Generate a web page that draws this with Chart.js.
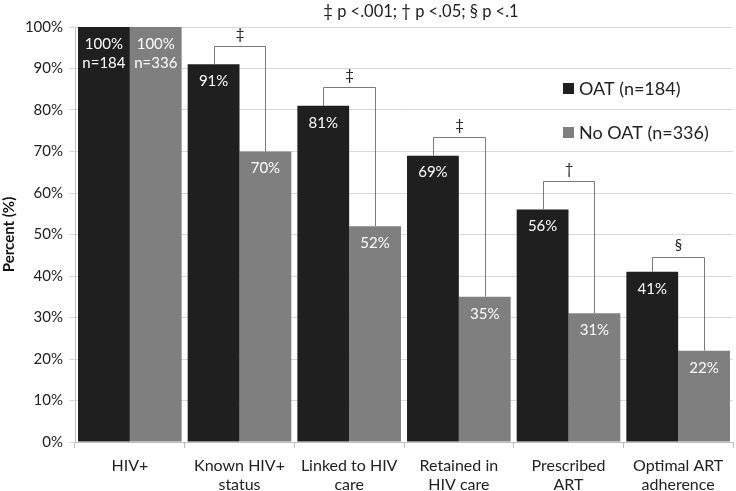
<!DOCTYPE html>
<html>
<head>
<meta charset="utf-8">
<script src="https://cdn.jsdelivr.net/npm/chart.js@4"></script>
<style>
  html, body { margin: 0; padding: 0; background: #fff; }
  #wrap { width: 736px; height: 491px; }
</style>
</head>
<body>
<div id="wrap"><canvas id="chart" width="736" height="491"></canvas></div>
<script>
const categories = [['HIV+'], ['Known HIV+', 'status'], ['Linked to HIV', 'care'], ['Retained in', 'HIV care'], ['Prescribed', 'ART'], ['Optimal ART', 'adherence']];
const oatValues = [100, 91, 81, 69, 56, 41];
const noOatValues = [100, 70, 52, 35, 31, 22];
const seriesNames = ['OAT (n=184)', 'No OAT (n=336)'];
const firstGroupN = ['n=184', 'n=336'];
const bracketTops = [null, 95.5, 85.5, 73.5, 63, 44.5];
const bracketSymbols = ['', '‡', '‡', '‡', '†', '§'];
const yTicks = [0, 10, 20, 30, 40, 50, 60, 70, 80, 90, 100];
const titleText = '‡ p <.001; † p <.05; § p <.1';

const FONT = 'Lato, "Open Sans", sans-serif';
const DARK = '#1f1f1f';
const GRAY = '#7f7f7f';

// bar value labels, brackets, title and legend
const extras = {
    id: 'extras',
    afterDatasetsDraw(chart) {
        const ctx = chart.ctx;
        const y = chart.scales.y;
        ctx.save();
        ctx.textAlign = 'center';
        ctx.textBaseline = 'middle';
        ctx.fillStyle = '#fff';
        ctx.font = '15px ' + FONT;
        chart.data.datasets.forEach((ds, di) => {
            chart.getDatasetMeta(di).data.forEach((bar, i) => {
                ctx.fillText(ds.data[i] + '%', bar.x, bar.y + 17);
                if (i === 0) ctx.fillText(firstGroupN[di], bar.x, bar.y + 36);
            });
        });

        const m0 = chart.getDatasetMeta(0).data;
        const m1 = chart.getDatasetMeta(1).data;
        ctx.strokeStyle = '#7a7a7a';
        ctx.lineWidth = 1;
        ctx.fillStyle = '#222';
        ctx.font = '15px ' + FONT;
        bracketTops.forEach((top, i) => {
            if (top === null) return;
            const x1 = Math.round(m0[i].x) + 0.5;
            const x2 = Math.round(m1[i].x) + 0.5;
            const yt = Math.round(y.getPixelForValue(top)) + 0.5;
            ctx.beginPath();
            ctx.moveTo(x1, m0[i].y);
            ctx.lineTo(x1, yt);
            ctx.lineTo(x2, yt);
            ctx.lineTo(x2, m1[i].y);
            ctx.stroke();
            ctx.fillText(bracketSymbols[i], (x1 + x2) / 2, yt - 12);
        });

        ctx.fillStyle = '#222';
        ctx.font = '16.5px ' + FONT;
        ctx.fillText(titleText, 421, 12);

        ctx.textAlign = 'left';
        ctx.font = '18px ' + FONT;
        [DARK, GRAY].forEach((c, k) => {
            const cy = 89 + k * 44;
            ctx.fillStyle = c;
            ctx.fillRect(563, cy - 6, 11, 11);
            ctx.fillStyle = '#222';
            ctx.fillText(seriesNames[k], 579, cy);
        });
        ctx.restore();
    }
};

new Chart(document.getElementById('chart'), {
    type: 'bar',
    data: {
        labels: categories,
        datasets: [
            { label: seriesNames[0], data: oatValues, backgroundColor: DARK },
            { label: seriesNames[1], data: noOatValues, backgroundColor: GRAY }
        ]
    },
    options: {
        responsive: false,
        animation: false,
        layout: { padding: { top: 27, right: 3, left: 0, bottom: 0 } },
        datasets: { bar: { categoryPercentage: 0.945, barPercentage: 1 } },
        plugins: { legend: { display: false }, title: { display: false }, tooltip: { enabled: false } },
        scales: {
            x: {
                grid: { offset: true, drawOnChartArea: false, color: '#bfbfbf', tickLength: 6 },
                border: { color: '#bfbfbf' },
                ticks: { color: '#222', font: { family: FONT, size: 16, lineHeight: 1.2 }, padding: 8, maxRotation: 0, autoSkip: false },
                afterFit(scale) { scale.height = 49; }
            },
            y: {
                min: 0,
                max: 100,
                afterBuildTicks(scale) { scale.ticks = yTicks.map(v => ({ value: v })); },
                grid: { color: '#d9d9d9', tickLength: 6 },
                border: { color: '#bfbfbf' },
                ticks: { color: '#222', font: { family: FONT, size: 15 }, padding: 6, callback: v => v + '%' },
                title: { display: true, text: 'Percent (%)', color: '#111', font: { family: FONT, size: 15, weight: 'bold' }, padding: 0 },
                afterFit(scale) { scale.width = 75; }
            }
        }
    },
    plugins: [extras]
});
</script>
</body>
</html>
